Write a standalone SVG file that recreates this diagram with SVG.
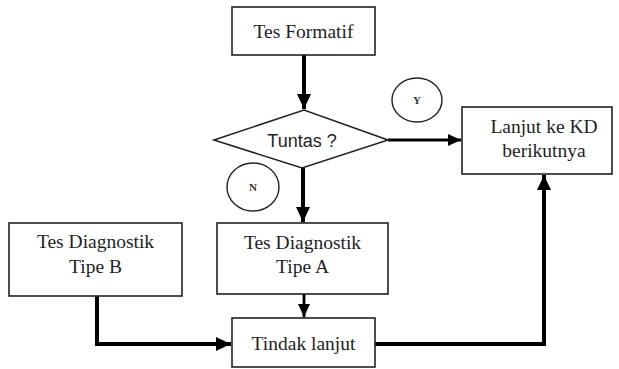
<svg xmlns="http://www.w3.org/2000/svg" width="619" height="369" viewBox="0 0 619 369">
<style>
.box{fill:#fff;stroke:#222;stroke-width:1.6}
.t{font-family:"Liberation Serif",serif;font-size:19.5px;fill:#1e1e28;text-anchor:middle}
.s{font-family:"Liberation Sans",sans-serif;font-size:18px;fill:#1e1e28;text-anchor:middle}
.lbl{font-family:"Liberation Serif",serif;font-size:11px;font-weight:bold;fill:#333;text-anchor:middle}
.c{fill:#fff;stroke:#222;stroke-width:1.4}
.w{fill:none;stroke:#000;stroke-width:4}
.n{fill:none;stroke:#000;stroke-width:2.8}
</style>
<defs>
<marker id="ah" markerUnits="userSpaceOnUse" markerWidth="16" markerHeight="16" viewBox="0 0 16 16" refX="15" refY="8" orient="auto">
<path d="M0,1 L15,8 L0,15 z" fill="#000"/>
</marker>
<marker id="ahs" markerUnits="userSpaceOnUse" markerWidth="14" markerHeight="14" viewBox="0 0 14 14" refX="13" refY="7" orient="auto">
<path d="M0,1 L13,7 L0,13 z" fill="#000"/>
</marker>
</defs>
<g id="connectors">
<path class="w" d="M304,55 V109" marker-end="url(#ah)"/>
<path class="n" d="M388,140 H461" marker-end="url(#ahs)"/>
<path class="w" d="M303,168 V222" marker-end="url(#ah)"/>
<path class="n" d="M304,294 V317" marker-end="url(#ahs)"/>
<path class="w" d="M97,296 V344 H231" marker-end="url(#ah)"/>
<path class="w" d="M375,344 H544 V175" marker-end="url(#ah)"/>
</g>
<g id="tes-formatif">
<rect class="box" x="232" y="7" width="143" height="48"/>
<text class="t" x="303.5" y="38">Tes Formatif</text>
</g>
<g id="tuntas">
<polygon class="box" points="214,140 304,110 388,140 302,168"/>
<text class="s" x="302" y="147">Tuntas ?</text>
</g>
<g id="label-y">
<ellipse class="c" cx="417" cy="100" rx="25" ry="22"/>
<text class="lbl" x="417" y="104">Y</text>
</g>
<g id="label-n">
<ellipse class="c" cx="253" cy="187" rx="26" ry="24"/>
<text class="lbl" x="253" y="191">N</text>
</g>
<g id="lanjut">
<rect class="box" x="462" y="107" width="150" height="67"/>
<text class="t" x="544" y="133">Lanjut ke KD</text>
<text class="t" x="544" y="157">berikutnya</text>
</g>
<g id="tipe-b">
<rect class="box" x="9" y="223" width="173" height="73"/>
<text class="t" x="95.5" y="248">Tes Diagnostik</text>
<text class="t" x="95.5" y="273">Tipe B</text>
</g>
<g id="tipe-a">
<rect class="box" x="217" y="223" width="171" height="71"/>
<text class="t" x="302.5" y="249">Tes Diagnostik</text>
<text class="t" x="302.5" y="273">Tipe A</text>
</g>
<g id="tindak">
<rect class="box" x="232" y="318" width="143" height="49"/>
<text class="t" x="303.5" y="350">Tindak lanjut</text>
</g>
</svg>
